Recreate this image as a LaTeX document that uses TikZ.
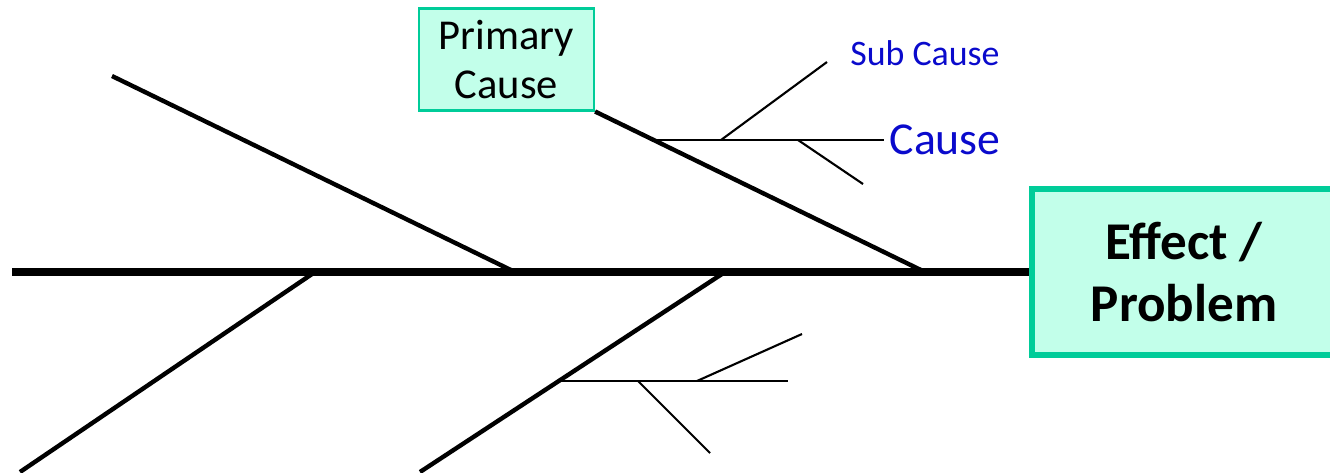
\documentclass[tikz,border=0pt]{standalone}
\usepackage{fontspec}
\setmainfont{Carlito}
\definecolor{boxfill}{RGB}{194,255,234}
\definecolor{boxedge}{RGB}{0,204,153}
\definecolor{subblue}{RGB}{10,10,204}

\begin{document}
\begin{tikzpicture}[x=0.01cm, y=-0.01cm]

      \tikzset{effectbox/.style = {shape=rectangle,draw=boxedge,fill=boxfill,line width=1.7pt,
          minimum width=3.04cm,minimum height=1.65cm,align=center,
          font=\fontsize{15.1}{17.6}\selectfont\bfseries}}
      \tikzset{causebox/.style = {shape=rectangle,draw=boxedge,fill=boxfill,line width=0.6pt,
          minimum width=1.75cm,minimum height=1.01cm,align=center,
          font=\fontsize{12.1}{13.9}\selectfont}}
      \tikzset{spine/.style = {line width=2.1pt}}
      \tikzset{bone/.style = {line width=1.25pt}}
      \tikzset{twig/.style = {line width=0.6pt}}
      \clip (0,0) rectangle (1330,472);
      % vertices
      \node[effectbox] (eff) at (1184,272) {Effect /\\Problem};
      \node[causebox] (pc) at (506.5,59.5) {Primary\\Cause};
      \node[text=subblue, font=\fontsize{10.2}{12}\selectfont] (sc) at (925,53) {Sub Cause};
      \node[text=subblue, font=\fontsize{13}{15}\selectfont, anchor=west, inner sep=0.05cm] (c) at (884,140) {Cause};
      \coordinate (s0) at (12,272);
      \coordinate (j1) at (315,272);
      \coordinate (j2) at (515,272);
      \coordinate (j3) at (725,272);
      \coordinate (j4) at (925,272);
      \coordinate (t1) at (112,76);
      \coordinate (t3) at (20,472);
      \coordinate (t4) at (420,472);
      \coordinate (u1) at (657,140);
      \coordinate (u2) at (721,140);
      \coordinate (u3) at (798,140);
      \coordinate (u4) at (827,62);
      \coordinate (u5) at (863,184);
      \coordinate (l1) at (561,381);
      \coordinate (l2) at (638,381);
      \coordinate (l3) at (697,381);
      \coordinate (l4) at (788,381);
      \coordinate (l5) at (802,334);
      \coordinate (l6) at (710,453);
      %edges
      \draw[spine] (s0) -- (eff.west);
      \draw[bone] (t1) -- (j2);
      \draw[bone] (pc.south east) -- (j4);
      \draw[bone] (j1) -- (t3);
      \draw[bone] (j3) -- (t4);
      \draw[twig] (u1) -- (u1 -| c.west);
      \draw[twig] (u2) -- (u4);
      \draw[twig] (u3) -- (u5);
      \draw[twig] (l1) -- (l4);
      \draw[twig] (l3) -- (l5);
      \draw[twig] (l2) -- (l6);

\end{tikzpicture}
\end{document}
